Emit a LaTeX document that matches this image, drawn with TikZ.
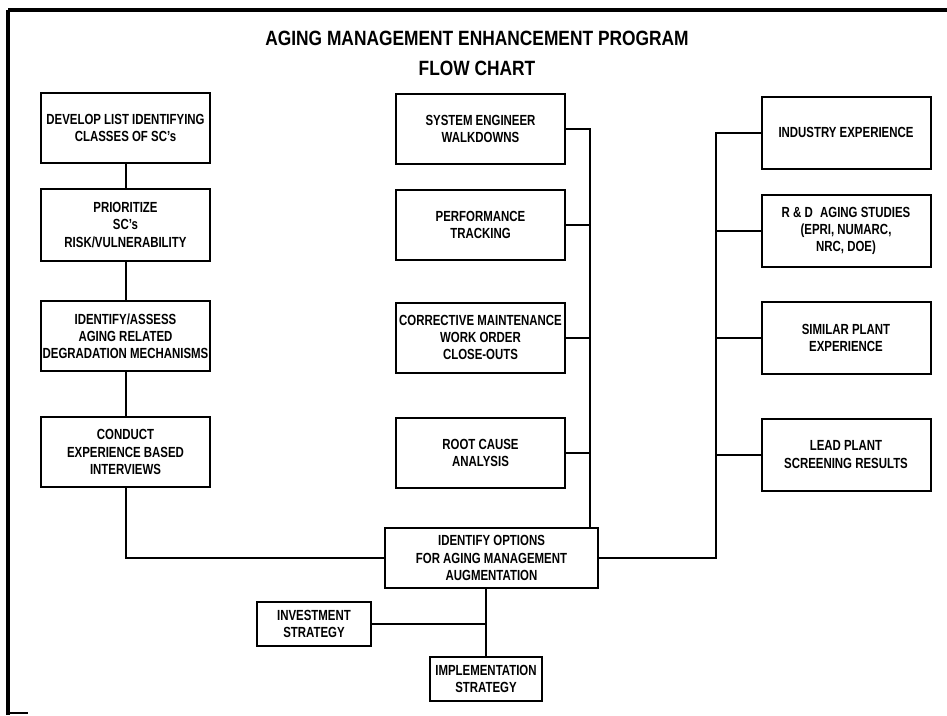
\documentclass[tikz,border=0pt]{standalone}
\usepackage{fontspec}
\setmainfont{Liberation Sans}[FakeStretch=0.78]
\newfontfamily\titlefont{Liberation Sans}[FakeStretch=0.84]
\usetikzlibrary{positioning,calc}

\tikzset{
  chartbox/.style={rectangle, draw, line width=1.5pt, align=center, inner sep=1pt,
    minimum width=126.75pt, minimum height=52.5pt, font=\bfseries\fontsize{11}{12.8}\selectfont},
  sourcebox/.style={chartbox, minimum height=54pt},
  smallbox/.style={chartbox, minimum width=85pt, minimum height=33pt},
  wire/.style={line width=1.5pt},
  heading/.style={font=\titlefont\bfseries\fontsize{15.5}{17}\selectfont},
}

\begin{document}
\begin{tikzpicture}[x=0.75pt, y=-0.75pt]
\useasboundingbox (0,0) rectangle (947,715);
% sheet frame
\draw[line width=2.6pt] (947,10) -- (8,10);
\draw[line width=3.2pt] (8,10) -- (8,715);
\draw[line width=1.5pt] (8,713) -- (28,713);

\node[heading] (title) at (477,38) {AGING MANAGEMENT ENHANCEMENT PROGRAM};
\node[heading] (subtitle) at (477,68) {FLOW CHART};

% left column
\node[chartbox] (develop) at (125.5,127.5) {DEVELOP LIST IDENTIFYING\\CLASSES OF SC's};
\node[chartbox, minimum height=54pt] (prioritize) at (125.5,225) {PRIORITIZE\\SC's\\RISK/VULNERABILITY};
\node[chartbox] (assess) at (125.5,336) {IDENTIFY/ASSESS\\AGING RELATED\\DEGRADATION MECHANISMS};
\node[chartbox] (conduct) at (125.5,452) {CONDUCT\\EXPERIENCE BASED\\INTERVIEWS};

% middle column
\node[chartbox] (walkdown) at (480.5,128.5) {SYSTEM ENGINEER\\WALKDOWNS};
\node[chartbox] (tracking) at (480.5,225) {PERFORMANCE\\TRACKING};
\node[chartbox] (corrective) at (480.5,337.5) {CORRECTIVE MAINTENANCE\\WORK ORDER\\CLOSE-OUTS};
\node[chartbox] (rootcause) at (480.5,452.5) {ROOT CAUSE\\ANALYSIS};

% right column
\node[sourcebox] (industry) at (846,132.5) {INDUSTRY EXPERIENCE};
\node[sourcebox] (studies) at (846,230.5) {R \& D\enspace AGING STUDIES\\(EPRI, NUMARC,\\NRC, DOE)};
\node[sourcebox] (similar) at (846,338) {SIMILAR PLANT\\EXPERIENCE};
\node[sourcebox] (leadplant) at (846,454.5) {LEAD PLANT\\SCREENING RESULTS};

% bottom
\node[chartbox, minimum width=160pt, minimum height=45pt] (options) at (491.5,558) {IDENTIFY OPTIONS\\FOR AGING MANAGEMENT\\AUGMENTATION};
\node[smallbox] (invest) at (314,624) {INVESTMENT\\STRATEGY};
\node[smallbox, minimum width=84pt] (implement) at (486,679) {IMPLEMENTATION\\STRATEGY};

% connectors
\draw[wire] (develop) -- (prioritize);
\draw[wire] (prioritize) -- (assess);
\draw[wire] (assess) -- (conduct);
\draw[wire] (conduct.south) |- (options.west);

\draw[wire] (walkdown.east) -- ++(24,0) coordinate (midtrunk) -- (midtrunk |- options.north);
\draw[wire] (tracking.east) -- (tracking.east -| midtrunk);
\draw[wire] (corrective.east) -- (corrective.east -| midtrunk);
\draw[wire] (rootcause.east) -- (rootcause.east -| midtrunk);

\draw[wire] (options.east) -- ++(117,0) coordinate (righttrunk) -- (righttrunk |- industry.west) -- (industry.west);
\draw[wire] (studies.west) -- (studies.west -| righttrunk);
\draw[wire] (similar.west) -- (similar.west -| righttrunk);
\draw[wire] (leadplant.west) -- (leadplant.west -| righttrunk);

\draw[wire] (options.south -| implement.north) -- (implement.north);
\draw[wire] (invest.east) -- (invest.east -| implement.north);
\end{tikzpicture}
\end{document}
